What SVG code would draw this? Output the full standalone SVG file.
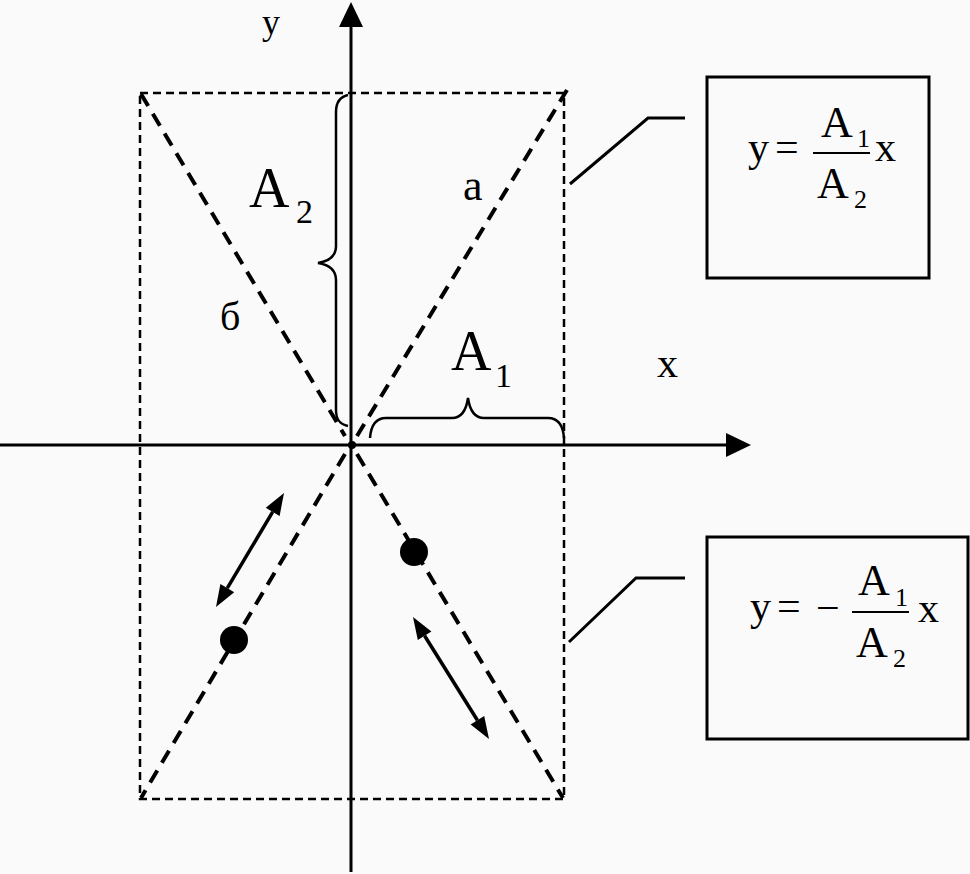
<svg xmlns="http://www.w3.org/2000/svg" width="970" height="874" viewBox="0 0 970 874">
<style>
.t{font-family:"Liberation Serif","Times New Roman",serif;fill:#000}
.ax{stroke:#000;stroke-width:3;fill:none}
.rect{stroke:#000;stroke-width:2.5;fill:none;stroke-dasharray:8 5}
.diag{stroke:#000;stroke-width:4;fill:none;stroke-dasharray:14 9}
.br{stroke:#000;stroke-width:2.5;fill:none}
.box{stroke:#000;stroke-width:3;fill:none}
.ld{stroke:#000;stroke-width:3;fill:none}
.dbl{stroke:#000;stroke-width:3.5;fill:none}
.hd{fill:#000}
</style>
<rect width="970" height="874" fill="#fafafa"/>
<g id="axes">
<line class="ax" x1="351" y1="20" x2="351" y2="872"/>
<path d="M351,2 L363,27 L339,27 z" fill="#000"/>
<line class="ax" x1="0" y1="445" x2="730" y2="445"/>
<path d="M751,445 L726,433 L726,457 z" fill="#000"/>
<circle cx="352" cy="445" r="4" fill="#000"/>
<text class="t" x="262" y="34" font-size="36">y</text>
<text class="t" x="657" y="377" font-size="42">x</text>
</g>
<g id="rectangle">
<rect class="rect" x="140" y="93" width="424" height="706"/>
</g>
<g id="diagonals">
<line class="diag" x1="357" y1="436" x2="567" y2="90"/>
<line class="diag" x1="141" y1="94" x2="345" y2="436"/>
<line class="diag" x1="345" y1="454" x2="141" y2="798"/>
<line class="diag" x1="357" y1="454" x2="563" y2="798"/>
<text class="t" x="463" y="200" font-size="44">a</text>
<text class="t" x="220" y="330" font-size="40">б</text>
</g>
<g id="brace-A2">
<path class="br" d="M348,95 C339,97 336,103 336,112 L336,246 C336,256 330,261 318,263 C330,265 336,270 336,280 L336,410 C336,419 339,424 348,426"/>
<text class="t" x="249" y="207" font-size="56">A</text>
<text class="t" x="296" y="223" font-size="34">2</text>
</g>
<g id="brace-A1">
<path class="br" d="M370,438 C371,425 376,418 386,418 L452,418 C461,418 466,412 468,398 C470,412 475,418 484,418 L548,418 C558,418 563,425 564,438"/>
<text class="t" x="451" y="370" font-size="56">A</text>
<text class="t" x="495" y="387" font-size="34">1</text>
</g>
<g id="motion">
<line class="dbl" x1="227.3" y1="588.1" x2="272.7" y2="511.9"/>
<polygon class="hd" points="284,493 279.6,516 265.8,507.8"/>
<polygon class="hd" points="216,607 234.2,592.2 220.4,584"/>
<line class="dbl" x1="424.6" y1="635.7" x2="477.4" y2="720.3"/>
<polygon class="hd" points="489,739 484.2,716.1 470.6,724.5"/>
<polygon class="hd" points="413,617 431.4,631.5 417.8,639.9"/>
<circle cx="234" cy="640" r="14" fill="#000"/>
<circle cx="414" cy="552" r="14" fill="#000"/>
</g>
<g id="connectors">
<polyline class="ld" points="570,184 648,118 685,118"/>
<polyline class="ld" points="569,642 636,578 685,578"/>
</g>
<g id="formula-a">
<rect class="box" x="707" y="77" width="222" height="201"/>
<text class="t" x="748" y="161" font-size="42">y</text>
<text class="t" x="775" y="161" font-size="42">=</text>
<text class="t" x="821" y="137" font-size="44">A</text>
<text class="t" x="857" y="147" font-size="26">1</text>
<line x1="813" y1="153" x2="870" y2="153" stroke="#000" stroke-width="2"/>
<text class="t" x="817" y="198" font-size="44">A</text>
<text class="t" x="854" y="208" font-size="26">2</text>
<text class="t" x="875" y="161" font-size="42">x</text>
</g>
<g id="formula-b">
<rect class="box" x="707" y="537" width="261" height="202"/>
<text class="t" x="750" y="620" font-size="42">y</text>
<text class="t" x="777" y="620" font-size="42">=</text>
<text class="t" x="816" y="622" font-size="42">−</text>
<text class="t" x="858" y="595" font-size="44">A</text>
<text class="t" x="895" y="606" font-size="26">1</text>
<line x1="852" y1="612" x2="909" y2="612" stroke="#000" stroke-width="2"/>
<text class="t" x="856" y="657" font-size="44">A</text>
<text class="t" x="893" y="667" font-size="26">2</text>
<text class="t" x="918" y="622" font-size="42">x</text>
</g>
</svg>
